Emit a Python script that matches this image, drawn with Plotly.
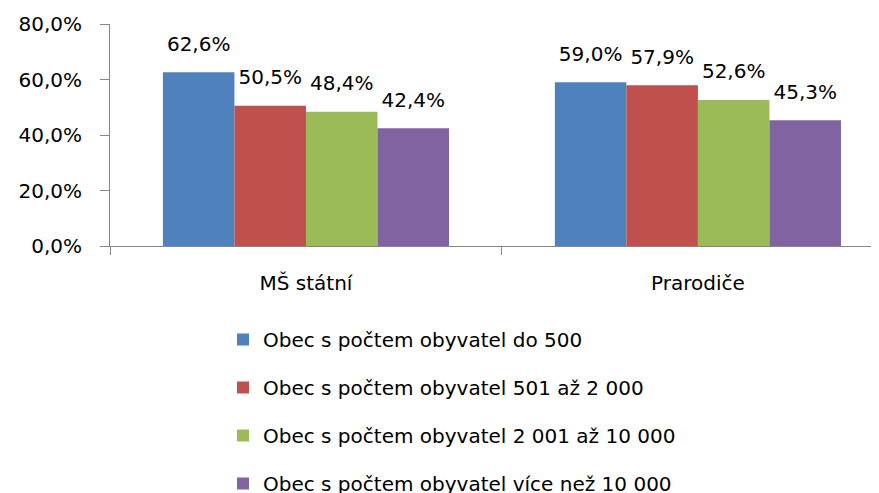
import plotly.graph_objects as go

categories = ["MŠ státní", "Prarodiče"]
series_names = [
    "Obec s počtem obyvatel do 500",
    "Obec s počtem obyvatel 501 až 2 000",
    "Obec s počtem obyvatel 2 001 až 10 000",
    "Obec s počtem obyvatel více než 10 000",
]
series_values = [
    [62.6, 59.0],
    [50.5, 57.9],
    [48.4, 52.6],
    [42.4, 45.3],
]
colors = ["#4F81BD", "#C0504D", "#9BBB59", "#8064A2"]
y_ticks = [0, 20, 40, 60, 80]
y_tick_labels = ["0,0%", "20,0%", "40,0%", "60,0%", "80,0%"]

FONT = "DejaVu Sans"
FS = 20

fig = go.Figure()
for i, (name, vals, col) in enumerate(zip(series_names, series_values, colors)):
    fig.add_trace(go.Bar(
        x=categories, y=vals, name=name, marker_color=col,
        marker_line_width=0,
        texttemplate="<span style='font-size:%dpx'>%%{y:.1f}%%</span><br> " % FS,
        textposition="outside", cliponaxis=False, constraintext="none",
        textfont=dict(family=FONT, size=12, color="#000000"),
        legendgroup=f"g{i}",
    ))

# figure is drawn 8px in from the page's top-left corner (body margin)
W, H = 871, 485
PL, PT, PB = 102, 16, 238  # plot area edges in figure pixels
fig.update_layout(
    width=W, height=H,
    margin=dict(l=PL, r=0, t=PT, b=H - PB, autoexpand=False),
    paper_bgcolor="white", plot_bgcolor="white",
    separators=", ",
    font=dict(family=FONT, size=FS, color="#000000"),
    barmode="group", bargap=0.27, bargroupgap=0,
    showlegend=True,
    legend=dict(
        xref="paper", yref="paper",
        x=(215 - PL) / (W - PL), y=(PB - 312) / (PB - PT),
        xanchor="left", yanchor="top",
        orientation="v", tracegroupgap=19,
        font=dict(family=FONT, size=FS, color="#000000"),
        itemwidth=30, bgcolor="rgba(0,0,0,0)",
    ),
    xaxis=dict(
        range=[-0.5, 1.462], showline=True, linecolor="#868686", linewidth=1,
        ticks="outside", tickson="boundaries", ticklen=8, tickcolor="#868686",
        showgrid=False, ticklabelstandoff=19, tickangle=0,
    ),
    yaxis=dict(
        range=[0, 80], tickvals=y_ticks, ticktext=y_tick_labels,
        showline=True, linecolor="#868686", linewidth=1,
        ticks="outside", ticklen=9, tickcolor="#868686",
        showgrid=False, zeroline=False, ticklabelstandoff=14,
    ),
)

fig.write_html("out.html")
